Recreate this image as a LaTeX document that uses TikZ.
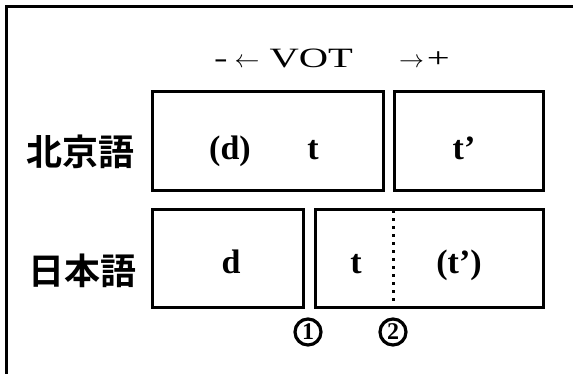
\documentclass[tikz,border=0pt]{standalone}
\usepackage{fontspec}
\newfontfamily\jpfont[BoldFont={Noto Sans CJK JP Bold}]{Noto Sans CJK JP}
\newfontfamily\latfont{Liberation Serif}
\newfontfamily\widefont[FakeStretch=1.45]{Liberation Serif}

\begin{document}
\begin{tikzpicture}[
    x=1pt, y=-1pt,
    cell/.style={draw,line width=3pt,inner sep=0pt,anchor=north west},
    lang/.style={font=\jpfont\bfseries\fontsize{36}{36}\selectfont},
    sym/.style={anchor=base,inner sep=0pt,font=\latfont\bfseries\fontsize{34}{34}\selectfont},
    vot/.style={anchor=base,inner sep=0pt,font=\widefont\fontsize{28}{28}\selectfont},
    circnum/.style={circle,draw,line width=3.2pt,inner sep=0pt,minimum size=26pt,
        font=\latfont\bfseries\fontsize{24}{24}\selectfont},
    frame/.style={line width=3pt},
    cut/.style={line width=3pt,dash pattern=on 3pt off 5pt}
]
\useasboundingbox (0,0) rectangle (573,373);

% outer frame (only top and left show)
\coordinate (FB) at (6.5,380);
\coordinate (FC) at (6.5,6.5);
\coordinate (FR) at (580,6.5);
\draw[frame] (FB) -- (FC) -- (FR);

% VOT axis
\node[vot] (VOT) at (332,67) {-\kern7pt$\leftarrow$\kern10pt VOT\kern46pt$\rightarrow$\kern3pt+};

% Beijing row
\node[lang] (BJ) at (81,152) {北京語};
\node[cell,minimum width=231pt,minimum height=99pt] (BJa) at (151,90) {};
\node[cell,minimum width=149pt,minimum height=99pt] (BJb) at (393,90) {};
\node[sym] (BJd) at (230,159) {(d)};
\node[sym] (BJt) at (313,159) {t};
\node[sym] (BJth) at (464,159) {t’};

% Japanese row
\node[lang] (JP) at (82,271) {日本語};
\node[cell,minimum width=151pt,minimum height=98pt] (JPa) at (151,208) {};
\node[cell,minimum width=228pt,minimum height=98pt] (JPb) at (314,208) {};
\node[sym] (JPd) at (231,273) {d};
\node[sym] (JPt) at (356,273) {t};
\node[sym] (JPth) at (459,273) {(t’)};

% boundary inside the Japanese t box
\coordinate (cutT) at (393,210);
\coordinate (cutB) at (393,305);
\draw[cut] (cutT) -- (cutB);

% boundary numbers
\node[circnum] (n1) at (308,332) {1};
\node[circnum] (n2) at (393,332) {2};

\end{tikzpicture}
\end{document}
